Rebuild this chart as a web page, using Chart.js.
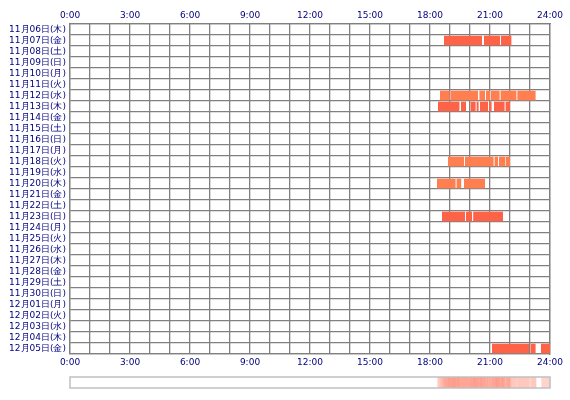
<!DOCTYPE html>
<html><head><meta charset="utf-8">
<script src="https://cdn.jsdelivr.net/npm/chart.js@4"></script>
<style>body{margin:0;background:#fff}#w{width:570px;height:400px}</style>
</head><body><div id="w"><canvas id="c"></canvas></div>
<script>
const dates = ["11月06日(木)","11月07日(金)","11月08日(土)","11月09日(日)","11月10日(月)","11月11日(火)","11月12日(水)","11月13日(木)","11月14日(金)","11月15日(土)","11月16日(日)","11月17日(月)","11月18日(火)","11月19日(水)","11月20日(木)","11月21日(金)","11月22日(土)","11月23日(日)","11月24日(月)","11月25日(火)","11月26日(水)","11月27日(木)","11月28日(金)","11月29日(土)","11月30日(日)","12月01日(月)","12月02日(火)","12月03日(水)","12月04日(木)","12月05日(金)"];
const hourTicks = ["0:00","3:00","6:00","9:00","12:00","15:00","18:00","21:00","24:00"];
// segments per row [start hour, end hour]
const segments = {
  "11月07日(金)": [[18.7,20.6],[20.7,21.5],[21.55,22.07]],
  "11月12日(水)": [[18.5,18.98],[19.03,20.4],[20.47,20.75],[20.8,21.0],[21.05,21.48],[21.53,22.32],[22.37,23.28]],
  "11月13日(木)": [[18.4,19.47],[19.55,19.8],[20.03,20.28],[20.33,20.43],[20.5,20.9],[20.95,21.08],[21.2,21.73],[21.78,22.0]],
  "11月18日(火)": [[18.9,19.7],[19.75,21.18],[21.23,21.4],[21.45,21.77],[21.8,22.0]],
  "11月20日(木)": [[18.35,19.28],[19.33,19.56],[19.7,20.75]],
  "11月23日(日)": [[18.6,19.75],[19.8,20.1],[20.16,21.65]],
  "12月05日(金)": [[21.1,22.95],[23.03,23.28],[23.55,24]]
};
const rowColors = {"11月12日(水)":"#ff7f50","11月18日(火)":"#ff7f50","11月20日(木)":"#ff7f50"};

const maxSeg = Math.max(...Object.values(segments).map(s=>s.length));
const datasets = [];
for (let i=0;i<maxSeg;i++){
  datasets.push({
    data: dates.map(d => (segments[d] && segments[d][i]) ? segments[d][i] : null),
    backgroundColor: dates.map(d => rowColors[d] || "#ff6347"),
    grouped:false, barPercentage:1, categoryPercentage:0.88, borderWidth:0
  });
}
const strip = {
  id:'strip',
  afterDraw(chart){
    const ctx=chart.ctx, xs=chart.scales.x;
    const top=377, h=11, step=0.05;
    for(let t=0;t<24;t+=step){
      let n=0;
      Object.values(segments).forEach(s=>{ if(s.some(g=>g[0]<=t+step/2 && g[1]>t+step/2)) n++; });
      if(!n) continue;
      ctx.fillStyle='rgba(255,99,71,'+Math.min(0.14+0.06*n,0.6)+')';
      const x0=xs.getPixelForValue(t), x1=xs.getPixelForValue(t+step);
      ctx.fillRect(x0,top,x1-x0+0.5,h);
    }
    ctx.strokeStyle='#c0c0c0'; ctx.lineWidth=1.5;
    ctx.strokeRect(xs.left,top,xs.right-xs.left,h);
  }
};
const tickOpts = {color:'#000080',font:{family:'DejaVu Sans',size:9},autoSkip:false,maxRotation:0,stepSize:1,
  callback:(v)=> v%3===0 ? hourTicks[v/3] : ''};
new Chart(document.getElementById('c'),{
  type:'bar',
  data:{labels:dates,datasets},
  plugins:[strip],
  options:{
    indexAxis:'y', responsive:true, maintainAspectRatio:false, animation:false,
    layout:{padding:{left:0,right:20,top:0,bottom:26}},
    plugins:{legend:{display:false},tooltip:{enabled:false}},
    scales:{
      x:{type:'linear',position:'bottom',min:0,max:24,ticks:tickOpts,
        grid:{color:'#808080',lineWidth:1.3,drawTicks:false},border:{color:'#808080',width:1.3},
        afterFit:s=>{s.height=20;}},
      x2:{type:'linear',position:'top',min:0,max:24,ticks:tickOpts,
        grid:{display:false,drawTicks:false},border:{color:'#808080',width:1.3},
        afterFit:s=>{s.height=24;}},
      y:{ticks:{color:'#000080',font:{family:'DejaVu Sans',size:9},padding:4,autoSkip:false},
        grid:{color:'#808080',lineWidth:1.3,drawTicks:false},border:{color:'#808080',width:1.3},
        afterFit:s=>{s.width=70;}},
      y2:{position:'right',display:true,ticks:{display:false},grid:{display:false,drawTicks:false},border:{color:'#808080',width:1.3},afterFit:s=>{s.width=0;}}
    }
  }
});
</script></body></html>
